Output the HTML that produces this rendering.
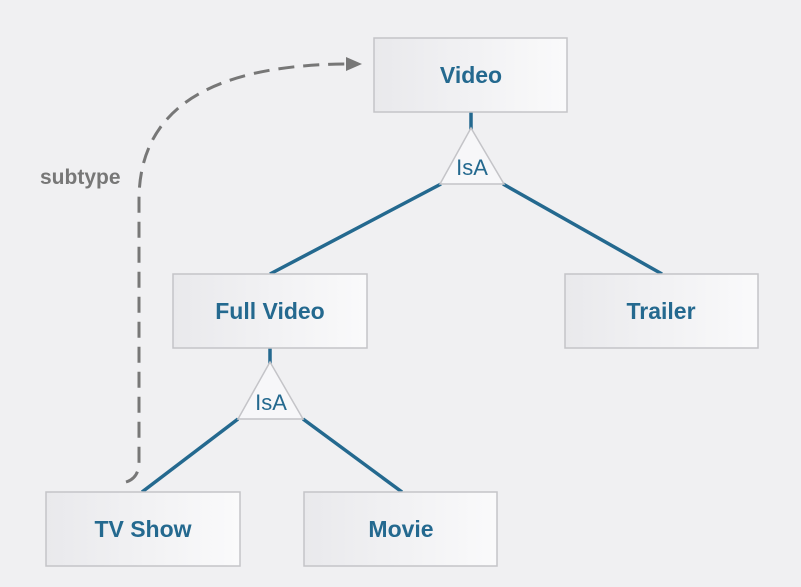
<!DOCTYPE html>
<html><head><style>
body{margin:0;background:#f0f0f2;}
svg{display:block;}
text{font-family:"Liberation Sans",sans-serif;}
</style></head><body>
<svg width="801" height="587" viewBox="0 0 801 587">
<defs>
<linearGradient id="g" x1="0" x2="1" y1="0" y2="0"><stop offset="0" stop-color="#e9e9ec"/><stop offset="1" stop-color="#fafafb"/></linearGradient>
</defs>
<rect width="801" height="587" fill="#f0f0f2"/>
<g stroke="#24698f" stroke-width="3.5" fill="none">
<line x1="471" y1="112" x2="471" y2="130"/>
<line x1="441" y1="184" x2="270" y2="274"/>
<line x1="503" y1="184" x2="662" y2="274"/>
<line x1="270" y1="348" x2="270" y2="364"/>
<line x1="238" y1="419" x2="142" y2="492"/>
<line x1="303" y1="419" x2="402" y2="492"/>
</g>
<g fill="url(#g)" stroke="#c4c4c8" stroke-width="1.5">
<rect x="374" y="38" width="193" height="74"/>
<rect x="173" y="274" width="194" height="74"/>
<rect x="565" y="274" width="193" height="74"/>
<rect x="46" y="492" width="194" height="74"/>
<rect x="304" y="492" width="193" height="74"/>
<polygon points="471,128 440,184 504,184" fill="#f7f7f9"/>
<polygon points="270,362 238,419 303,419" fill="#f7f7f9"/>
</g>
<g fill="#24698f" font-weight="bold" font-size="23" text-anchor="middle">
<text x="471" y="83">Video</text>
<text x="270" y="319">Full Video</text>
<text x="661" y="319">Trailer</text>
<text x="143" y="537">TV Show</text>
<text x="401" y="537">Movie</text>
</g>
<g fill="#24698f" font-size="22" text-anchor="middle">
<text x="472" y="175">IsA</text>
<text x="271" y="410">IsA</text>
</g>
<path d="M126,482 Q139,478 139,462 L139,200 Q139,66 345,64" fill="none" stroke="#777" stroke-width="3" stroke-dasharray="16,9"/>
<polygon points="362,64 346,57 346,71" fill="#777"/>
<text x="40" y="184" fill="#777" font-weight="bold" font-size="21">subtype</text>
</svg>
</body></html>
